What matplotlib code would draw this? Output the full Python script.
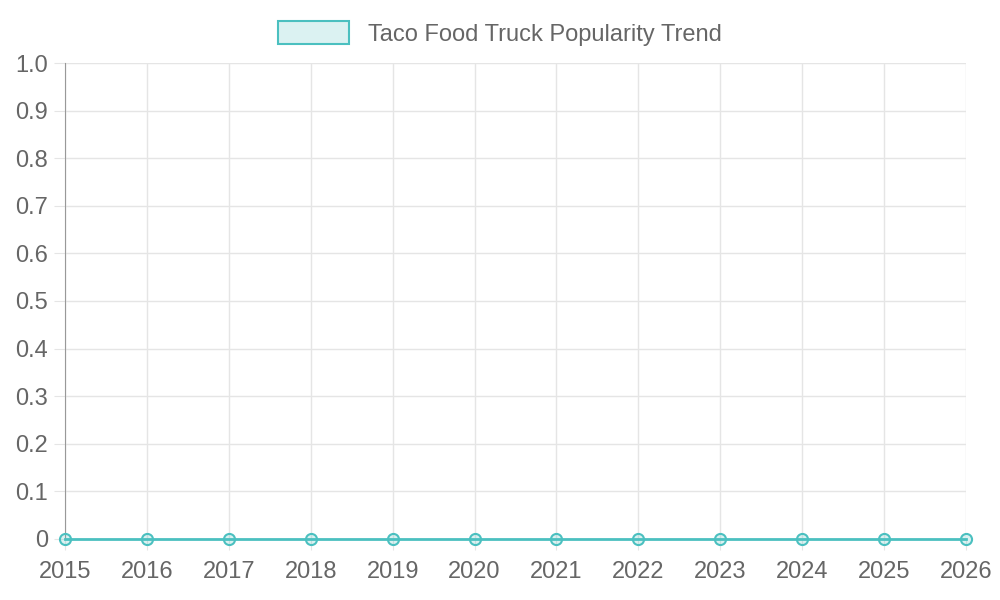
import matplotlib.pyplot as plt
from matplotlib.patches import Patch

years = [2015, 2016, 2017, 2018, 2019, 2020, 2021, 2022, 2023, 2024, 2025, 2026]
popularity = [0, 0, 0, 0, 0, 0, 0, 0, 0, 0, 0, 0]
y_ticks = [0, 0.1, 0.2, 0.3, 0.4, 0.5, 0.6, 0.7, 0.8, 0.9, 1.0]
y_labels = ["0", "0.1", "0.2", "0.3", "0.4", "0.5", "0.6", "0.7", "0.8", "0.9", "1.0"]

plt.rcParams['font.family'] = ['Liberation Sans', 'DejaVu Sans']
teal = (75/255, 192/255, 192/255)
fill = (75/255, 192/255, 192/255, 0.2)
txt = "#666666"
gridc = "#e5e5e5"

fig = plt.figure(figsize=(10, 6), dpi=100)
ax = fig.add_axes([0.065, 0.1017, 0.901, 0.7933])

ax.plot(years, popularity, color=teal, lw=2, marker='o', ms=8,
        markerfacecolor=fill, markeredgecolor=teal, markeredgewidth=1.5,
        clip_on=False, zorder=3)
ax.set_xlim(years[0], years[-1])
ax.set_ylim(0, 1.0)
ax.set_xticks(years)
ax.set_xticklabels([str(y) for y in years])
ax.set_yticks(y_ticks)
ax.set_yticklabels(y_labels)
ax.tick_params(color=gridc, labelcolor=txt, labelsize=17, length=8)
ax.tick_params(axis='y', pad=4)
ax.tick_params(axis='x', pad=8)
ax.grid(True, color=gridc, lw=1)
ax.set_axisbelow(True)
for s in ['top', 'right', 'bottom']:
    ax.spines[s].set_visible(False)
ax.spines['left'].set_color('#999999')

handle = Patch(facecolor=fill, edgecolor=teal, lw=1.5)
fig.legend([handle], ["Taco Food Truck Popularity Trend"], loc='upper center',
           bbox_to_anchor=(0.5, 1.0), frameon=False, fontsize=17,
           labelcolor=txt, handlelength=3.0, handleheight=1.1)

fig.savefig("out.png", dpi=100)
